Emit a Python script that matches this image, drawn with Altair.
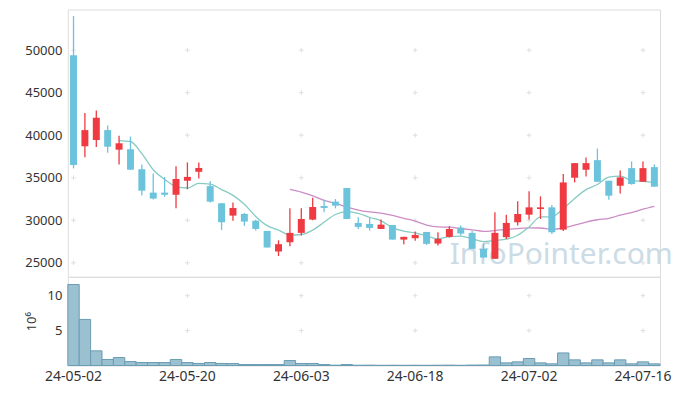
import altair as alt
import pandas as pd

dates = ["24-05-02", "24-05-03", "24-05-07", "24-05-08", "24-05-09", "24-05-10",
         "24-05-13", "24-05-14", "24-05-16", "24-05-17", "24-05-20", "24-05-21",
         "24-05-22", "24-05-23", "24-05-24", "24-05-27", "24-05-28", "24-05-29",
         "24-05-30", "24-05-31", "24-06-03", "24-06-04", "24-06-05", "24-06-07",
         "24-06-10", "24-06-11", "24-06-12", "24-06-13", "24-06-14", "24-06-17",
         "24-06-18", "24-06-19", "24-06-20", "24-06-21", "24-06-24", "24-06-25",
         "24-06-26", "24-06-27", "24-06-28", "24-07-01", "24-07-02", "24-07-03",
         "24-07-04", "24-07-05", "24-07-08", "24-07-09", "24-07-10", "24-07-11",
         "24-07-12", "24-07-15", "24-07-16", "24-07-17"]

opens = [49400, 38700, 39450, 40600, 38300, 38350, 36000, 33250, 33250, 33000,
         34650, 35700, 34020, 32000, 30550, 30750, 29950, 28750, 26330, 27420,
         28520, 30080, 31680, 32190, 33790, 29690, 29570, 28980, 29450, 27730,
         27890, 28630, 27265, 28050, 29140, 28520, 26640, 25470, 28010, 29770,
         30660, 31330, 31520, 28900, 35000, 35940, 37070, 34650, 34060, 36130,
         34530, 36250]
highs = [54000, 42600, 42900, 41150, 39950, 39850, 36550, 35500, 35100, 36350,
         36800, 36800, 34600, 32000, 32100, 30850, 30050, 28750, 27650, 31400,
         31400, 32650, 32400, 32500, 33790, 30350, 30350, 30080, 29450, 28050,
         28670, 28630, 28590, 29300, 29380, 28750, 27270, 30940, 30660, 32230,
         33400, 32810, 31800, 35430, 36720, 37380, 38440, 34650, 35860, 36920,
         36920, 36560]
lows = [36100, 37400, 38600, 37950, 36550, 35900, 32900, 32450, 32750, 31400,
        33650, 34900, 32100, 28850, 29950, 29350, 28800, 26800, 25800, 26950,
        28200, 30000, 30950, 31400, 30150, 28980, 28790, 28980, 27730, 27190,
        27580, 27100, 27030, 27970, 28200, 26640, 25620, 25470, 27810, 29380,
        30080, 30150, 28400, 28750, 34450, 35160, 34530, 32420, 33160, 34180,
        34530, 33950]
closes = [36500, 40600, 42050, 38650, 39050, 35950, 33480, 32550, 33000, 34850,
          35100, 36150, 32190, 29770, 31450, 29850, 28980, 26800, 27190, 28520,
          30150, 31560, 31450, 31720, 30150, 29220, 29100, 29490, 27730, 28050,
          28280, 27230, 27810, 28980, 28440, 26640, 25620, 28520, 29690, 30740,
          31520, 31520, 28590, 34450, 36720, 36720, 34530, 32890, 35040, 34260,
          36130, 33950]
# volume in millions of shares
volumes = [11.6, 6.6, 2.1, 0.86, 1.14, 0.57, 0.43, 0.43, 0.43, 0.86,
           0.43, 0.29, 0.43, 0.29, 0.29, 0.14, 0.14, 0.14, 0.14, 0.71,
           0.29, 0.29, 0.14, 0.05, 0.14, 0.04, 0.05, 0.03, 0.04, 0.03,
           0.04, 0.03, 0.04, 0.05, 0.03, 0.06, 0.07, 1.24, 0.38, 0.52,
           1.0, 0.38, 0.24, 1.8, 0.81, 0.38, 0.81, 0.38, 0.81, 0.24,
           0.52, 0.24]

x_ticks = ["24-05-02", "24-05-20", "24-06-03", "24-06-18", "24-07-02", "24-07-16"]
price_ticks = [25000, 30000, 35000, 40000, 45000, 50000]
vol_ticks = [5, 10]

RED = "#ee3a40"
BLUE = "#6cc3dc"
TEAL = "#86cbc3"
PURPLE = "#cc8cc4"
VOLFILL = "#9bc0d0"
VOLSTROKE = "#6a9db4"
GRIDC = "#e3dde0"
TXT = "#333333"
FONT = "Noto Sans"

df = pd.DataFrame({"date": dates, "idx": list(range(len(dates))), "open": opens,
                   "high": highs, "low": lows, "close": closes, "vol": volumes})

band = alt.Scale(paddingInner=0, paddingOuter=0)
xs = alt.X("date:O", sort=dates, scale=band, axis=None)
yscale = alt.Scale(domain=[23360, 54770], nice=False, zero=False)
yaxis = alt.Axis(values=price_ticks, format="d", title=None, grid=False, ticks=False,
                 domain=False, labelPadding=6, labelFontSize=13, labelColor=TXT, labelFont=FONT)

base = alt.Chart(df).transform_calculate(
    dir="datum.close >= datum.open ? 'up' : 'down'")
color = alt.Color("dir:N", scale=alt.Scale(domain=["up", "down"], range=[RED, BLUE]), legend=None)

watermark = alt.Chart(pd.DataFrame({"t": ["InfoPointer.com"]})).mark_text(
    align="left", baseline="alphabetic", fontSize=30, font=FONT, color="#c3d6e2", opacity=0.85
).encode(x=alt.value(383), y=alt.value(255), text="t:N")

cross_df = pd.DataFrame([{"date": d, "p": p} for d in x_ticks for p in price_ticks])
crosses = alt.Chart(cross_df).mark_point(
    shape="M-1,0L1,0M0,-1L0,1", size=22, filled=False, strokeWidth=1, color=GRIDC, opacity=1
).encode(x=alt.X("date:O", sort=dates, scale=band, axis=None),
         y=alt.Y("p:Q", scale=yscale, axis=yaxis))

wick = base.mark_rule(strokeWidth=1.3).encode(
    x=xs, y=alt.Y("low:Q", scale=yscale, axis=yaxis), y2="high:Q", color=color)
body = base.mark_bar(size=7).encode(
    x=xs, y=alt.Y("open:Q", scale=yscale, axis=yaxis), y2="close:Q", color=color)

ma5 = alt.Chart(df).transform_window(
    ma="mean(close)", n="count()", frame=[-4, 0], sort=[alt.SortField("idx")]
).transform_filter("datum.n >= 5").mark_line(
    color=TEAL, strokeWidth=1.3, interpolate="monotone"
).encode(x=xs, y=alt.Y("ma:Q", scale=yscale, axis=yaxis), order="idx:Q")

ma20 = alt.Chart(df).transform_window(
    ma="mean(close)", n="count()", frame=[-19, 0], sort=[alt.SortField("idx")]
).transform_filter("datum.n >= 20").mark_line(
    color=PURPLE, strokeWidth=1.3, interpolate="monotone"
).encode(x=xs, y=alt.Y("ma:Q", scale=yscale, axis=yaxis), order="idx:Q")

price_panel = alt.layer(watermark, crosses, ma20, ma5, wick, body).properties(width=594, height=268)

vscale = alt.Scale(domain=[0, 12.71], nice=False)
vaxis = alt.Axis(values=vol_ticks, title="10⁶", grid=False, ticks=False, domain=False,
                 labelPadding=6, labelFontSize=13, labelColor=TXT, labelFont=FONT,
                 titleFontSize=13, titleFontWeight="normal", titleColor=TXT, titleFont=FONT,
                 titlePadding=9)
xaxis = alt.Axis(values=x_ticks, labelAngle=0, ticks=False, domain=False, grid=False,
                 labelPadding=4, labelFontSize=14, labelColor=TXT, labelFont=FONT, title=None)

vcross_df = pd.DataFrame([{"date": d, "v": v} for d in x_ticks for v in vol_ticks])
vcrosses = alt.Chart(vcross_df).mark_point(
    shape="M-1,0L1,0M0,-1L0,1", size=22, filled=False, strokeWidth=1, color=GRIDC, opacity=1
).encode(x=alt.X("date:O", sort=dates, scale=band, axis=xaxis),
         y=alt.Y("v:Q", scale=vscale, axis=vaxis))

vbars = alt.Chart(df).mark_bar(fill=VOLFILL, stroke=VOLSTROKE, strokeWidth=1).encode(
    x=alt.X("date:O", sort=dates, scale=band, axis=xaxis),
    y=alt.Y("vol:Q", scale=vscale, axis=vaxis))

vol_panel = alt.layer(vcrosses, vbars).properties(width=594, height=89)

chart = alt.vconcat(price_panel, vol_panel, spacing=0, bounds="flush").properties(
    padding={"left": 16, "top": 0, "right": 5, "bottom": 5}
).configure_view(stroke="#e5dfe2", strokeWidth=1).configure(background="white")

chart.save("out.html", embed_options={"renderer": "svg", "actions": False})
